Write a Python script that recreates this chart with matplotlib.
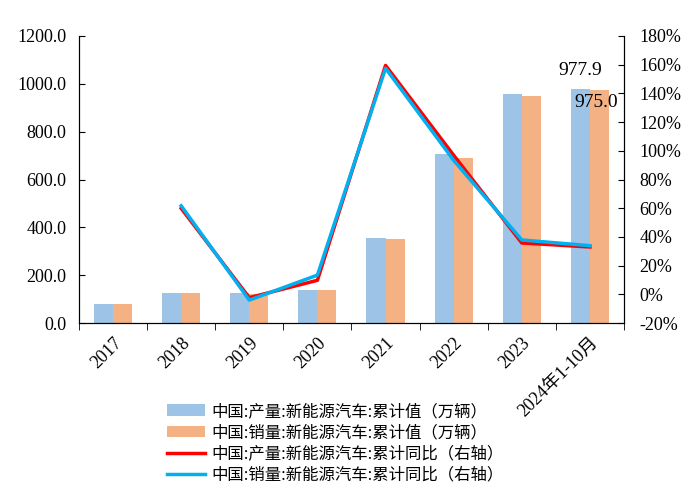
import numpy as np
import matplotlib
matplotlib.use('Agg')
import matplotlib.pyplot as plt

plt.rcParams['font.family'] = ['Liberation Serif', 'Noto Sans CJK SC']

years = ['2017', '2018', '2019', '2020', '2021', '2022', '2023', '2024年1-10月']
prod = [79.4, 127.0, 124.2, 136.6, 354.5, 705.8, 958.7, 977.9]
sales = [77.7, 125.6, 120.6, 136.7, 352.1, 688.7, 949.5, 975.0]
prod_yoy = [np.nan, 59.9, -2.3, 9.8, 159.5, 96.9, 35.8, 33.0]
sales_yoy = [np.nan, 61.7, -4.0, 13.4, 157.5, 93.4, 37.9, 33.9]

labels = ['中国:产量:新能源汽车:累计值（万辆）', '中国:销量:新能源汽车:累计值（万辆）',
          '中国:产量:新能源汽车:累计同比（右轴）', '中国:销量:新能源汽车:累计同比（右轴）']

fig = plt.figure(figsize=(6.96, 5.04), dpi=100)
ax = fig.add_axes([0.1135, 0.359, 0.783, 0.5696])
x = np.arange(len(years))
w = 0.28
b1 = ax.bar(x - w / 2, prod, w, color='#9DC3E6', label=labels[0])
b2 = ax.bar(x + w / 2, sales, w, color='#F4B183', label=labels[1])
ax.set_xlim(-0.5, len(years) - 0.5)
ax.set_ylim(0, 1200)
ax.set_yticks(np.arange(0, 1201, 200))
ax.set_yticklabels(['%.1f' % v for v in np.arange(0, 1201, 200)], fontsize=13)
ax.tick_params(axis='y', direction='in', length=4, pad=9)
ax.set_xticks(x)
ax.set_xticklabels(years, rotation=45, ha='right', rotation_mode='anchor', fontsize=13)
ax.tick_params(axis='x', length=0, pad=8)
ax.set_xticks(np.arange(-0.5, len(years)), minor=True)
ax.tick_params(axis='x', which='minor', length=5, direction='out')
ax.spines['top'].set_visible(False)

ax.annotate('%.1f' % prod[-1], (x[-1] - w / 2, prod[-1]), xytext=(0, 7),
            textcoords='offset points', ha='center', va='bottom', fontsize=14)
ax.annotate('%.1f' % sales[-1], (x[-1] + w / 2, sales[-1]), xytext=(-2, -3),
            textcoords='offset points', ha='center', va='top', fontsize=14)

ax2 = ax.twinx()
l1, = ax2.plot(x, prod_yoy, color='#FF0000', lw=2.5, label=labels[2])
l2, = ax2.plot(x, sales_yoy, color='#00B0F0', lw=2.5, label=labels[3])
ax2.set_ylim(-20, 180)
ax2.set_yticks(np.arange(-20, 181, 20))
ax2.set_yticklabels(['%d%%' % v for v in np.arange(-20, 181, 20)], fontsize=13)
ax2.tick_params(axis='y', direction='in', length=4, pad=11)
ax2.spines['top'].set_visible(False)

fig.legend([b1, b2, l1, l2], labels, loc='upper left', bbox_to_anchor=(0.219, 0.23),
           frameon=False, prop={'family': ['Noto Sans CJK SC'], 'size': 11.8},
           handlelength=2.3, labelspacing=0.26, handletextpad=0.4)

fig.savefig('out.png', dpi=100)
